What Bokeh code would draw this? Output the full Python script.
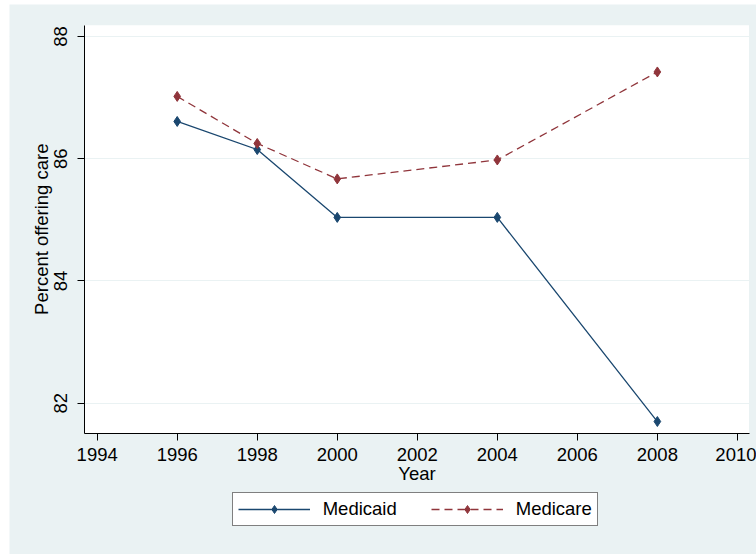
import math

from bokeh.embed import file_html
from bokeh.models import BoxAnnotation, FixedTicker, Label, Legend, LegendItem, Range1d
from bokeh.plotting import figure
from bokeh.resources import INLINE

# Survey years and the share of providers offering care
years = [1996, 1998, 2000, 2004, 2008]
medicaid = [86.61, 86.15, 85.04, 85.04, 81.70]
medicare = [87.02, 86.25, 85.67, 85.98, 87.42]

x_ticks = [1994, 1996, 1998, 2000, 2002, 2004, 2006, 2008, 2010]
y_ticks = [82, 84, 86, 88]
series_names = ["Medicaid", "Medicare"]
x_title = "Year"
y_title = "Percent offering care"

FONT = "Liberation Sans"
FSIZE = "18.5px"
BG = "#EAF2F3"
NAVY = "#1A476F"
MAROON = "#90353B"
DASH = "8 5"

# Plot region limits in data units
X_LO, X_HI = 1993.683, 2010.29
Y_LO, Y_HI = 81.509, 88.185

# Canvas geometry (px): whole canvas and the white plotting area inside it
W, H = 747, 550
AREA_L, AREA_R = 75, 739.5
AREA_T, AREA_B = 20.7, 428.7

# The frame covers the whole canvas; axes sit at fixed data positions
x_scale = (X_HI - X_LO) / (AREA_R - AREA_L)
y_scale = (Y_HI - Y_LO) / (AREA_B - AREA_T)
x_start = X_LO - AREA_L * x_scale
x_end = X_HI + (W - AREA_R) * x_scale
y_start = Y_LO - (H - AREA_B) * y_scale
y_end = Y_HI + AREA_T * y_scale

p = figure(
    width=W, height=H,
    output_backend="svg", toolbar_location=None,
    x_range=Range1d(x_start, x_end),
    y_range=Range1d(y_start, y_end),
    min_border=0,
    background_fill_color=BG,
    border_fill_color=BG,
    outline_line_color=None,
)
p.margin = (4, 0, 0, 9)

plot_area = BoxAnnotation(left=X_LO, right=X_HI, bottom=Y_LO, top=Y_HI,
                          fill_color="white", fill_alpha=1,
                          line_color=None, level="image")
p.add_layout(plot_area)

for ax in (p.xaxis, p.yaxis):
    ax.axis_line_color = "black"
    ax.axis_line_width = 1
    ax.major_tick_line_color = "black"
    ax.major_tick_out = 7
    ax.major_tick_in = 0
    ax.minor_tick_out = 0
    ax.minor_tick_in = 0
    ax.major_label_text_font = FONT
    ax.major_label_text_font_size = FSIZE
    ax.major_label_text_color = "black"
    ax.axis_label_text_font = FONT
    ax.axis_label_text_font_size = FSIZE
    ax.axis_label_text_font_style = "normal"
    ax.axis_label_text_color = "black"

p.xaxis.ticker = FixedTicker(ticks=x_ticks)
p.xaxis.fixed_location = Y_LO
p.xaxis.bounds = (X_LO, X_HI)
p.xaxis.axis_label = x_title
p.xaxis.major_label_standoff = 8
p.xaxis.axis_label_standoff = -2

p.yaxis.ticker = FixedTicker(ticks=y_ticks)
p.yaxis.fixed_location = X_LO
p.yaxis.bounds = (Y_LO, Y_HI)
p.yaxis.major_label_orientation = "vertical"
p.yaxis.major_label_standoff = 10

# Vertical axis title, centred on the plotting area
p.add_layout(Label(
    x=x_start + 32 * x_scale, y=(Y_LO + Y_HI) / 2,
    text=y_title, angle=math.pi / 2,
    text_align="center", text_baseline="middle",
    text_font=FONT, text_font_size=FSIZE, text_color="black",
))

p.xgrid.visible = False
p.ygrid.ticker = FixedTicker(ticks=y_ticks)
p.ygrid.grid_line_color = BG
p.ygrid.grid_line_width = 1

l1 = p.line(years, medicaid, line_color=NAVY, line_width=1.3)
s1 = p.scatter(years, medicaid, marker="diamond", size=10,
               fill_color=NAVY, line_color=NAVY)
l2 = p.line(years, medicare, line_color=MAROON, line_width=1.3, line_dash=DASH)
s2 = p.scatter(years, medicare, marker="diamond", size=10,
               fill_color=MAROON, line_color=MAROON)

legend = Legend(
    items=[
        LegendItem(label=series_names[0], renderers=[l1, s1]),
        LegendItem(label=series_names[1], renderers=[l2, s2]),
    ],
    orientation="horizontal",
    location=(222.7, 28),
    margin=0,
    padding=5,
    spacing=34,
    glyph_width=72,
    glyph_height=20,
    label_standoff=13,
    label_text_font=FONT,
    label_text_font_size=FSIZE,
    label_text_color="black",
    border_line_color="black",
    border_line_width=1,
    background_fill_color="white",
    background_fill_alpha=1,
)
p.add_layout(legend)

open("out.html", "w").write(file_html(p, INLINE))
